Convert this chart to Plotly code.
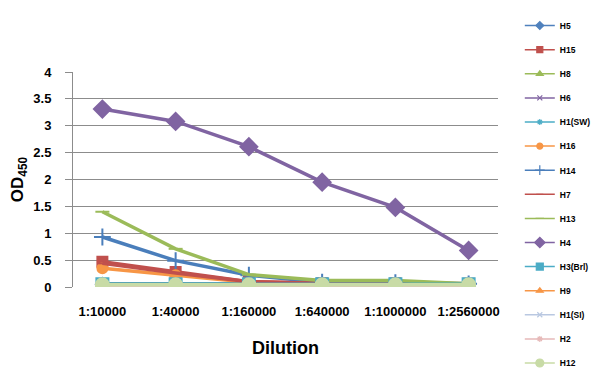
import plotly.graph_objects as go

categories = ["1:10000", "1:40000", "1:160000", "1:640000", "1:1000000", "1:2560000"]
y_ticks = [0, 0.5, 1, 1.5, 2, 2.5, 3, 3.5, 4]

H5 = [0.05, 0.05, 0.05, 0.05, 0.05, 0.05]
H15 = [0.47, 0.28, 0.10, 0.07, 0.07, 0.06]
H8 = [0.06, 0.06, 0.06, 0.06, 0.06, 0.05]
H6 = [0.05, 0.05, 0.05, 0.05, 0.05, 0.05]
H1_SW = [0.05, 0.05, 0.05, 0.05, 0.05, 0.05]
H16 = [0.35, 0.22, 0.09, 0.06, 0.06, 0.05]
H14 = [0.93, 0.49, 0.22, 0.09, 0.08, 0.06]
H7 = [0.44, 0.26, 0.10, 0.07, 0.07, 0.06]
H13 = [1.40, 0.71, 0.23, 0.12, 0.12, 0.06]
H4 = [3.31, 3.08, 2.61, 1.95, 1.48, 0.68]
H3_Brl = [0.05, 0.05, 0.05, 0.05, 0.05, 0.05]
H9 = [0.04, 0.04, 0.04, 0.04, 0.04, 0.04]
H1_SI = [0.04, 0.04, 0.04, 0.04, 0.04, 0.04]
H2 = [0.04, 0.04, 0.04, 0.04, 0.04, 0.04]
H12 = [0.04, 0.04, 0.04, 0.04, 0.04, 0.04]

series = [
    ("H5", H5, "#4F81BD", "diamond", 10),
    ("H15", H15, "#C0504D", "square", 10),
    ("H8", H8, "#9BBB59", "triangle-up", 10),
    ("H6", H6, "#8064A2", "x-thin-open", 9),
    ("H1(SW)", H1_SW, "#4BACC6", "asterisk-open", 9),
    ("H16", H16, "#F79646", "circle", 10),
    ("H14", H14, "#4A7EBB", "cross-thin-open", 12),
    ("H7", H7, "#C0504D", "line-ew-open", 7),
    ("H13", H13, "#9BBB59", "line-ew-open", 10),
    ("H4", H4, "#8064A2", "diamond", 13),
    ("H3(Brl)", H3_Brl, "#4BACC6", "square", 12),
    ("H9", H9, "#F79646", "triangle-up", 10),
    ("H1(SI)", H1_SI, "#B9C8E1", "x-thin-open", 9),
    ("H2", H2, "#E6B9B8", "asterisk-open", 9),
    ("H12", H12, "#C8DBA6", "circle", 13),
]

fig = go.Figure()
for name, vals, color, sym, size in series:
    fig.add_trace(go.Scatter(
        x=categories, y=vals, name=name, mode="lines+markers",
        legendgroup=name, showlegend=False,
        line=dict(color=color, width=3.5),
        marker=dict(symbol=sym, size=size, color=color,
                    line=dict(color=color, width=2)),
    ))
# legend entries with smaller markers, as in the reference legend
for name, vals, color, sym, size in series:
    fig.add_trace(go.Scatter(
        x=[None], y=[None], name=f"<b>{name}</b>", mode="lines+markers",
        legendgroup=name, showlegend=True,
        line=dict(color=color, width=1.5),
        marker=dict(symbol=sym, size=max(5, round(size * 0.6)), color=color,
                    line=dict(color=color, width=1.2)),
    ))

font_family = "Liberation Sans"
fig.update_layout(
    width=600, height=387,
    paper_bgcolor="white", plot_bgcolor="white",
    margin=dict(l=65, r=110, t=64, b=108),
    font=dict(family=font_family, color="black"),
    showlegend=True,
    legend=dict(
        xref="container", yref="container",
        x=0.853, xanchor="left", y=0.992, yanchor="top",
        font=dict(family=font_family, size=8.5, color="black"),
        tracegroupgap=5.1, bgcolor="rgba(0,0,0,0)", maxheight=1.0,
    ),
    xaxis=dict(
        type="category", categoryorder="array", categoryarray=categories,
        showgrid=False, showline=False, zeroline=False, automargin=False,
        tickfont=dict(family=font_family, size=13, weight="bold"),
        ticks="", ticklabelstandoff=15,
        title=dict(text="Dilution", font=dict(family=font_family, size=18, weight="bold"), standoff=23),
    ),
    yaxis=dict(
        range=[0, 4], tickvals=y_ticks, ticktext=[f"{v:g}" for v in y_ticks],
        showgrid=True, gridcolor="#8C8C8C", gridwidth=1,
        showline=True, linecolor="#8C8C8C", linewidth=1, automargin=False,
        zeroline=False, ticks="outside", ticklen=7, tickcolor="#8C8C8C",
        tickfont=dict(family=font_family, size=13, weight="bold"),
        ticklabelstandoff=11,
        title=dict(text="OD<sub>450</sub>", font=dict(family=font_family, size=17, weight="bold"), standoff=13),
    ),
)

fig.write_html("out.html")
